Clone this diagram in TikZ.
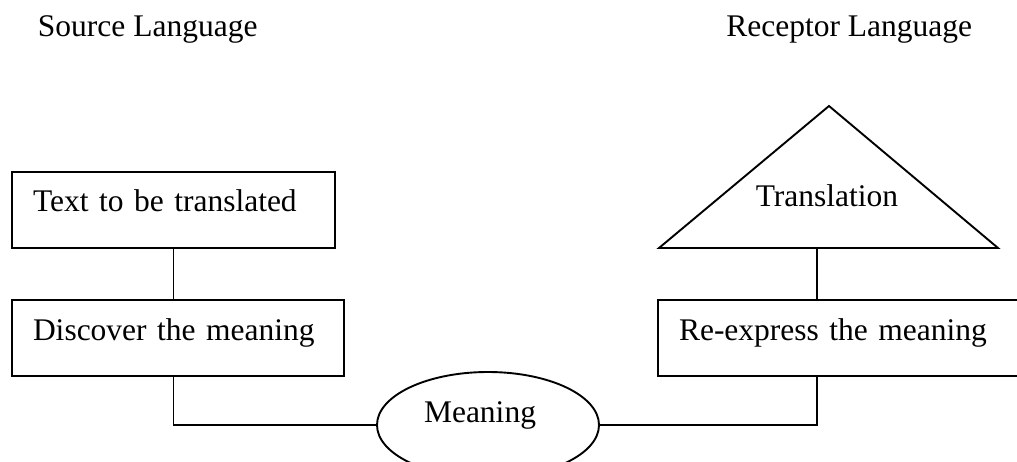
\documentclass[tikz,border=0pt]{standalone}
\usepackage{fontspec}
\setmainfont{Liberation Serif}
\usetikzlibrary{shapes.geometric}

\begin{document}
\begin{tikzpicture}[
  x=1pt,
  y=-1pt,
  line width=1.9pt,
  font=\fontsize{31.5}{38}\selectfont,
  title/.style={inner sep=0pt},
  stage/.style={draw, rectangle, outer sep=0pt, inner xsep=21pt,
    inner ysep=0pt, text height=40pt, text depth=36pt, align=left},
  core/.style={draw, ellipse, outer sep=0pt, inner sep=0pt,
    minimum width=222pt, minimum height=106pt,
    text height=15pt, text depth=21pt}
]
  \useasboundingbox (0,0) rectangle (1017,462);

  \node[title, anchor=base west] (srclang) at (37,37) {Source Language};
  \node[title, anchor=base east] (reclang) at (973,37) {Receptor Language};

  \node[stage, anchor=north west, text width=281pt] (source) at (12,172)
    {Text to be translated};
  \node[stage, anchor=north west, text width=290pt] (discover) at (12,300)
    {Discover the meaning};
  \node[stage, anchor=north west, text width=324pt] (express) at (658,300)
    {Re-express the meaning};
  \node[core] (meaning) at (488,425) {Meaning\hspace*{16pt}};

  \coordinate (apex) at (829,106);
  \coordinate (triL) at (659,248);
  \coordinate (triR) at (998,248);
  \coordinate (tribase) at (817,248);
  \draw (triL) -- (apex) -- (triR) -- cycle;
  \node[title, anchor=base] (target) at (827,207) {Translation};

  \draw (source.south) -- (discover.north -| source.south);
  \draw (discover.south -| source.south) |- (meaning.west);
  \draw (tribase) -- (tribase |- express.north);
  \draw (meaning.east) -| (express.south -| tribase);
\end{tikzpicture}
\end{document}
